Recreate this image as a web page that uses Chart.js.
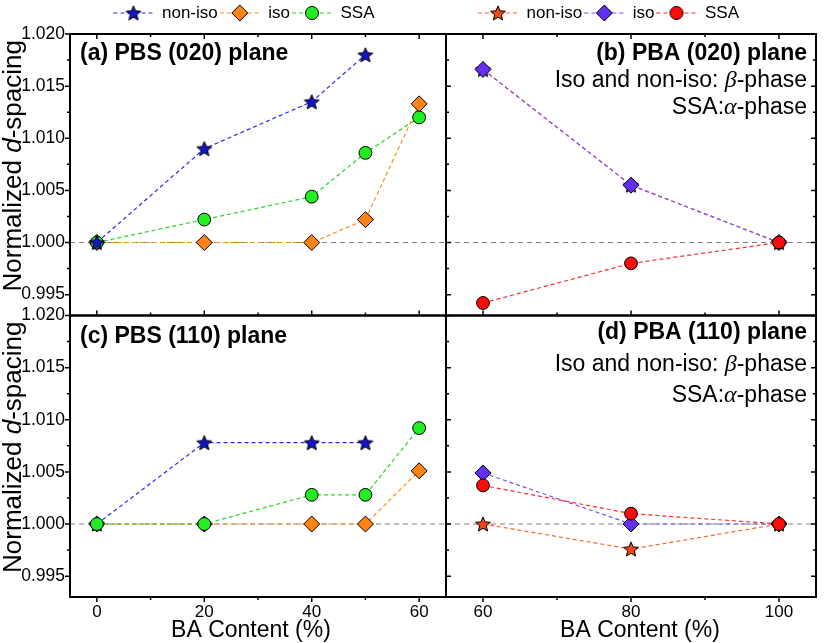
<!DOCTYPE html>
<html><head><meta charset="utf-8">
<script src="https://cdn.jsdelivr.net/npm/chart.js@4/dist/chart.umd.min.js"></script>
<style>
html,body{margin:0;padding:0;background:#fff;}
#wrap{position:relative;width:825px;height:643px;overflow:hidden;background:#fff;}
canvas{position:absolute;top:0;}
#cL{left:0;} #cR{left:350px;}
</style></head><body>
<div id="wrap"><canvas id="cL" width="500" height="643"></canvas><canvas id="cR" width="475" height="643"></canvas></div>
<script>
// ---------------- data ----------------
const pbsContent = [0, 20, 40, 50, 60];      // BA content (%) for PBS-side samples
const pbaContent = [60, 80, 100];            // BA content (%) for PBA-side samples

// (a) PBS (020) plane
const pbs020NonIso = [1.0000, 1.0090, 1.0135, 1.0180, null];
const pbs020Iso    = [1.0000, 1.0000, 1.0000, 1.0022, 1.0133];
const pbs020SSA    = [1.0000, 1.0022, 1.0044, 1.0086, 1.0120];
// (b) PBA (020) plane
const pba020NonIso = [1.0166, 1.0055, 1.0000];
const pba020Iso    = [1.0166, 1.0055, 1.0000];
const pba020SSA    = [0.9942, 0.9980, 1.0000];
// (c) PBS (110) plane
const pbs110NonIso = [1.0000, 1.0078, 1.0078, 1.0078, null];
const pbs110Iso    = [1.0000, 1.0000, 1.0000, 1.0000, 1.0051];
const pbs110SSA    = [1.0000, 1.0000, 1.0028, 1.0028, 1.0092];
// (d) PBA (110) plane
const pba110NonIso = [1.0000, 0.9976, 1.0000];
const pba110Iso    = [1.0049, 1.0000, 1.0000];
const pba110SSA    = [1.0037, 1.0010, 1.0000];

const seriesNames = ['non-iso', 'iso', 'SSA'];
const refLevel = 1.000;

const yTicks      = [0.995, 1.000, 1.005, 1.010, 1.015, 1.020];
const yMinorTicks = [0.9975, 1.0025, 1.0075, 1.0125, 1.0175];
const xTicksPBS   = [0, 20, 40, 60];
const xMinorPBS   = [10, 30, 50];
const xTicksPBA   = [60, 80, 100];
const xMinorPBA   = [70, 90];

const panelTitles = ['(a) PBS (020) plane', '(b) PBA (020) plane', '(c) PBS (110) plane', '(d) PBA (110) plane'];
const phaseNote1 = ['Iso and non-iso: ', 'β', '-phase'];
const phaseNote2 = ['SSA:', 'α', '-phase'];
const xAxisTitle = 'BA Content (%)';
const yAxisTitle = ['Normalized ', 'd', '-spacing'];

// ---------------- styles ----------------
const FONT = "'Liberation Sans', Arial, Helvetica, sans-serif";
const SERIF = "'Liberation Serif', 'Times New Roman', serif";
const xRangePBS = [-5, 65], xRangePBA = [55, 105], yRange = [0.993, 1.020];

function drawStar(g, cx, cy, R, fill) {
  const r = R * 0.45;
  g.beginPath();
  for (let i = 0; i < 10; i++) {
    const rad = i % 2 ? r : R;
    const ang = -Math.PI / 2 + i * Math.PI / 5;
    const px = cx + rad * Math.cos(ang), py = cy + rad * Math.sin(ang);
    if (i) g.lineTo(px, py); else g.moveTo(px, py);
  }
  g.closePath();
  g.fillStyle = fill; g.fill();
  g.lineWidth = 1; g.strokeStyle = '#000'; g.lineJoin = 'miter'; g.stroke();
}
function starCanvas(fill) {
  const c = document.createElement('canvas'); c.width = 22; c.height = 22;
  drawStar(c.getContext('2d'), 11, 11.7, 7.8, fill);
  return c;
}
function legendIcon(st) {
  const c = document.createElement('canvas'); c.width = 40; c.height = 20;
  const g = c.getContext('2d');
  g.setLineDash([4, 3]); g.strokeStyle = st.line; g.lineWidth = 1.2;
  g.beginPath(); g.moveTo(0, 10); g.lineTo(40, 10); g.stroke(); g.setLineDash([]);
  if (st.kind === 'star') drawStar(g, 20, 10.7, 7.8, st.fill);
  else {
    g.beginPath();
    if (st.kind === 'diamond') { g.moveTo(20, 2); g.lineTo(28, 10); g.lineTo(20, 18); g.lineTo(12, 10); g.closePath(); }
    else g.arc(20, 10, 6.5, 0, Math.PI * 2);
    g.fillStyle = st.fill; g.fill(); g.lineWidth = 1; g.strokeStyle = '#000'; g.stroke();
  }
  return c;
}
const stL = [
  {kind:'star', fill:'#1414c8', line:'#2a2af0'},
  {kind:'diamond', fill:'#ff8412', line:'#ff8c1a'},
  {kind:'circle', fill:'#22ee22', line:'#22d822'}
];
const stR = [
  {kind:'star', fill:'#f04814', line:'#ff6030'},
  {kind:'diamond', fill:'#6230f0', line:'#7a50ff'},
  {kind:'circle', fill:'#ff0a0a', line:'#ff2a2a'}
];
function pointOpts(st) {
  if (st.kind === 'star') return {pointStyle: starCanvas(st.fill), pointRadius: 7};
  if (st.kind === 'diamond') return {pointStyle: 'rectRot', pointRadius: 8};
  return {pointStyle: 'circle', pointRadius: 6.4};
}
function series(label, xs, ys, yAxisID, st, order) {
  const data = xs.map((x, i) => ({x, y: ys[i]})).filter(p => p.y !== null && p.y !== undefined);
  const po = pointOpts(st);
  return Object.assign({
    label, data, xAxisID: 'x', yAxisID, showLine: true, tension: 0, fill: false,
    borderColor: st.line, borderWidth: 1.2, borderDash: [4, 3],
    backgroundColor: st.fill, pointBackgroundColor: st.fill, pointBorderColor: '#000',
    pointBorderWidth: 1, pointHoverRadius: po.pointRadius, order
  }, po);
}
function refLine(range, yAxisID) {
  return {label: 'ref', data: range.map(x => ({x, y: refLevel})), xAxisID: 'x', yAxisID, showLine: true,
    borderColor: '#808080', borderWidth: 1.2, borderDash: [5, 4], pointRadius: 0, pointHoverRadius: 0, order: 50};
}

function rich(ctx, parts, x, y, align) {
  let total = 0;
  parts.forEach(p => { ctx.font = p.f; p.w = ctx.measureText(p.t).width; total += p.w; });
  let cx = align === 'right' ? x - total : align === 'center' ? x - total / 2 : x;
  ctx.textAlign = 'left';
  parts.forEach(p => { ctx.font = p.f; ctx.fillText(p.t, cx, y); cx += p.w; });
}
const F_REG = '23px ' + FONT, F_BOLD = 'bold 23px ' + FONT, F_GREEK = 'italic 24px ' + SERIF;
const F_YREG = '26px ' + FONT, F_YIT = 'italic 26px ' + FONT;
function noteParts(arr) { return [{t: arr[0], f: F_REG}, {t: arr[1], f: F_GREEK}, {t: arr[2], f: F_REG}]; }

function decor(side) {
  return {
    id: 'decor' + side,
    afterDraw(chart) {
      const ctx = chart.ctx, x = chart.scales.x, yT = chart.scales.yTop, yB = chart.scales.yBot;
      const L = chart.chartArea.left, R = chart.chartArea.right;
      ctx.save();
      ctx.strokeStyle = '#000'; ctx.lineWidth = 2;
      ctx.strokeRect(L, yT.top, R - L, yT.bottom - yT.top);
      ctx.strokeRect(L, yB.top, R - L, yB.bottom - yB.top);
      ctx.lineWidth = 1.5; ctx.beginPath();
      const xMaj = side === 'L' ? xTicksPBS : xTicksPBA, xMin = side === 'L' ? xMinorPBS : xMinorPBA;
      const xt = (vals, y, len) => vals.forEach(v => { const p = x.getPixelForValue(v); ctx.moveTo(p, y); ctx.lineTo(p, y + len); });
      const yt = (s, vals, xx, len) => vals.forEach(v => { const p = s.getPixelForValue(v); ctx.moveTo(xx, p); ctx.lineTo(xx + len, p); });
      xt(xMaj, yT.top, 5); xt(xMin, yT.top, 3);
      xt(xMaj, yT.bottom, -5); xt(xMin, yT.bottom, -3);
      xt(xMaj, yB.bottom, 5); xt(xMin, yB.bottom, 3);
      [yT, yB].forEach(s => {
        if (side === 'L') { yt(s, yTicks, L, -5); yt(s, yMinorTicks, L, -3); }
        else { yt(s, yTicks, L, 5); yt(s, yMinorTicks, L, 3); yt(s, yTicks, R, -5); yt(s, yMinorTicks, R, -3); }
      });
      ctx.stroke();
      ctx.fillStyle = '#000'; ctx.textBaseline = 'alphabetic';
      if (side === 'L') {
        rich(ctx, [{t: panelTitles[0], f: F_BOLD}], L + 10, yT.top + 25.5, 'left');
        rich(ctx, [{t: panelTitles[2], f: F_BOLD}], L + 10, yB.top + 27.5, 'left');
        [yT, yB].forEach(s => {
          ctx.save();
          ctx.translate(21, (s.top + s.bottom) / 2 - 9);
          ctx.rotate(-Math.PI / 2);
          rich(ctx, [{t: yAxisTitle[0], f: F_YREG}, {t: yAxisTitle[1], f: F_YIT}, {t: yAxisTitle[2], f: F_YREG}], 0, 0, 'center');
          ctx.restore();
        });
        rich(ctx, [{t: xAxisTitle, f: F_REG}], (L + R) / 2 - 7, 636.5, 'center');
      } else {
        const rx = R - 9;
        rich(ctx, [{t: panelTitles[1], f: F_BOLD}], rx, yT.top + 25.5, 'right');
        rich(ctx, noteParts(phaseNote1), rx, yT.top + 53, 'right');
        rich(ctx, noteParts(phaseNote2), rx, yT.top + 80, 'right');
        rich(ctx, [{t: panelTitles[3], f: F_BOLD}], rx, yB.top + 23.5, 'right');
        rich(ctx, noteParts(phaseNote1), rx, yB.top + 55, 'right');
        rich(ctx, noteParts(phaseNote2), rx, yB.top + 86.5, 'right');
        rich(ctx, [{t: xAxisTitle, f: F_REG}], (L + R) / 2 + 9, 636.5, 'center');
      }
      ctx.restore();
    }
  };
}

const topGap = {L: 4, R: 4};
function makeScales(side) {
  const xr = side === 'L' ? xRangePBS : xRangePBA;
  const xt = side === 'L' ? xTicksPBS : xTicksPBA;
  const noGrid = {display: false, drawTicks: false};
  const yAxis = (weight) => ({
    type: 'linear', axis: 'y', position: 'left', stack: 'panels', stackWeight: 1, weight,
    min: yRange[0], max: yRange[1], bounds: 'data',
    afterBuildTicks: s => { s.ticks = yTicks.map(v => ({value: v})); },
    ticks: {display: side === 'L', font: {family: FONT, size: 17.5}, color: '#000', padding: 5, autoSkip: false,
      callback: v => Number(v).toFixed(3)},
    grid: noGrid, border: {display: false},
    afterFit: s => { s.width = side === 'L' ? 70 : 50; }
  });
  const sc = {
    x: {type: 'linear', axis: 'x', position: 'bottom', min: xr[0], max: xr[1], bounds: 'data',
      afterBuildTicks: s => { s.ticks = xt.map(v => ({value: v})); },
      ticks: {font: {family: FONT, size: 17}, color: '#000', padding: 5, autoSkip: false, maxRotation: 0, callback: v => String(v)},
      grid: noGrid, border: {display: false},
      afterFit: s => { s.height = 46; }},
    xTop: {type: 'linear', axis: 'x', position: 'top', min: xr[0], max: xr[1],
      ticks: {display: false}, grid: noGrid, border: {display: false},
      afterFit: s => { s.height = topGap[side]; }},
    yTop: yAxis(2),
    yBot: yAxis(1)
  };
  if (side === 'L') {
    sc.ySpacer = {type: 'linear', axis: 'y', position: 'right', min: yRange[0], max: yRange[1],
      ticks: {display: false}, grid: noGrid, border: {display: false},
      afterFit: s => { s.width = 42; }};
  }
  return sc;
}
function makeLegend(styles) {
  const icons = styles.map(legendIcon);
  return {
    display: true, position: 'top', align: 'center',
    labels: {
      usePointStyle: true, pointStyleWidth: 40, boxHeight: 17, padding: 2, color: '#000',
      font: {family: FONT, size: 17},
      generateLabels: () => seriesNames.map((n, i) => ({
        text: n, pointStyle: icons[i], fillStyle: 'rgba(0,0,0,0)', strokeStyle: 'rgba(0,0,0,0)',
        lineWidth: 0, hidden: false, datasetIndex: i, fontColor: '#000'
      }))
    }
  };
}

const leftDatasets = [
  series(seriesNames[0], pbsContent, pbs020NonIso, 'yTop', stL[0], 1),
  series(seriesNames[1], pbsContent, pbs020Iso, 'yTop', stL[1], 3),
  series(seriesNames[2], pbsContent, pbs020SSA, 'yTop', stL[2], 2),
  series(seriesNames[0], pbsContent, pbs110NonIso, 'yBot', stL[0], 3),
  series(seriesNames[1], pbsContent, pbs110Iso, 'yBot', stL[1], 2),
  series(seriesNames[2], pbsContent, pbs110SSA, 'yBot', stL[2], 1),
  refLine(xRangePBS, 'yTop'), refLine(xRangePBS, 'yBot')
];
const rightDatasets = [
  series(seriesNames[0], pbaContent, pba020NonIso, 'yTop', stR[0], 3),
  series(seriesNames[1], pbaContent, pba020Iso, 'yTop', stR[1], 2),
  series(seriesNames[2], pbaContent, pba020SSA, 'yTop', stR[2], 1),
  series(seriesNames[0], pbaContent, pba110NonIso, 'yBot', stR[0], 3),
  series(seriesNames[1], pbaContent, pba110Iso, 'yBot', stR[1], 2),
  series(seriesNames[2], pbaContent, pba110SSA, 'yBot', stR[2], 1),
  refLine(xRangePBA, 'yTop'), refLine(xRangePBA, 'yBot')
];

function build(id, side, datasets, styles, padL, padR) {
  return new Chart(document.getElementById(id), {
    type: 'scatter',
    data: {datasets},
    options: {
      responsive: false, animation: false, events: [],
      layout: {padding: {left: padL, right: padR, top: 2, bottom: 0}},
      scales: makeScales(side),
      plugins: {legend: makeLegend(styles), tooltip: {enabled: false}, title: {display: false}}
    },
    plugins: [decor(side)]
  });
}
const chartL = build('cL', 'L', leftDatasets, stL, 0, 12);
const chartR = build('cR', 'R', rightDatasets, stR, 46, 4);

function alignTop(chart, side) {
  const lg = chart.legend;
  let tc;
  const hb = lg && lg.legendHitBoxes && lg.legendHitBoxes[0];
  if (hb && isFinite(hb.top)) tc = hb.top + hb.height / 2; else tc = lg.top + lg.height / 2;
  chart.options.layout.padding.top = Math.max(0, chart.options.layout.padding.top + (13 - tc));
  chart.update();
  topGap[side] = Math.max(0, topGap[side] + (34 - chart.chartArea.top));
  chart.update();
}
alignTop(chartL, 'L');
alignTop(chartR, 'R');
</script></body></html>
